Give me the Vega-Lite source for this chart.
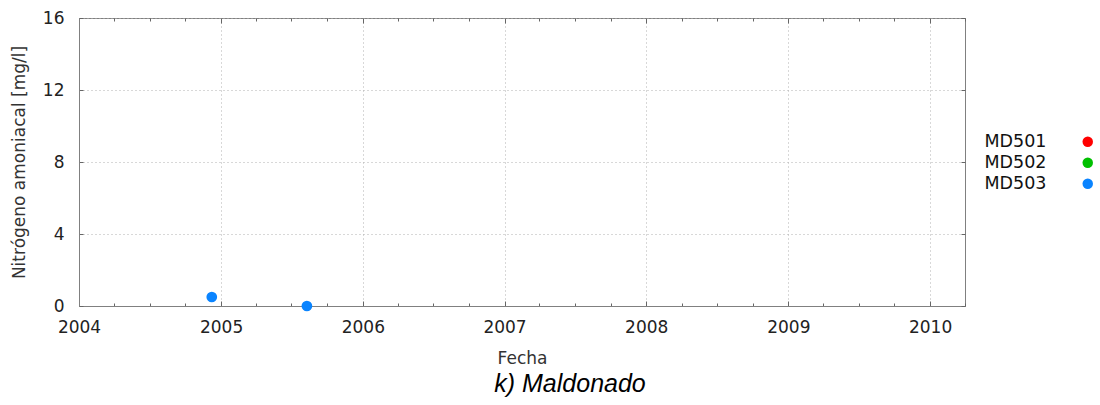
{
  "$schema": "https://vega.github.io/schema/vega-lite/v6.json",
  "autosize": "none",
  "width": 886,
  "height": 288,
  "padding": {"left": 79, "top": 18, "right": 135, "bottom": 99},
  "background": "white",
  "config": {
    "font": "DejaVu Sans",
    "view": {"stroke": "#808080", "strokeWidth": 1}
  },
  "title": {
    "text": "k) Maldonado",
    "orient": "bottom",
    "font": "Liberation Sans",
    "fontStyle": "italic",
    "fontWeight": "normal",
    "fontSize": 25,
    "color": "#000000",
    "offset": 6,
    "dx": 48
  },
  "data": {
    "values": [
      {"fecha": "2004-12-08", "valor": 0.5, "estacion": "MD503"},
      {"fecha": "2005-08-10", "valor": 0.0, "estacion": "MD503"}
    ]
  },
  "layer": [
    {
      "mark": {"type": "point", "filled": true, "opacity": 1, "size": 115},
      "encoding": {
        "x": {
          "field": "fecha",
          "type": "temporal",
          "title": "Fecha",
          "scale": {"domain": ["2004-01-01", "2010-04-01"], "nice": false},
          "axis": {
            "orient": "bottom",
            "tickCount": {"interval": "month", "step": 3},
            "labelExpr": "month(datum.value)==0 ? timeFormat(datum.value,'%Y') : ''",
            "labelOverlap": false,
            "labelFontSize": 17,
            "labelColor": "#222222",
            "labelPadding": 18,
            "labelFlush": false,
            "domainColor": "#808080",
            "tickColor": "#666666",
            "tickSize": {"condition": {"test": "month(datum.value)==0", "value": -5}, "value": -3},
            "grid": true,
            "gridColor": "#b0b0b0",
            "gridDash": [1, 3],
            "gridOpacity": {"condition": {"test": "month(datum.value)==0", "value": 1}, "value": 0},
            "titleFontSize": 17,
            "titleFontWeight": "normal",
            "titleColor": "#333333",
            "titlePadding": 13
          }
        },
        "y": {
          "field": "valor",
          "type": "quantitative",
          "title": "Nitrógeno amoniacal [mg/l]",
          "scale": {"domain": [0, 16], "nice": false},
          "axis": {
            "values": [0, 4, 8, 12, 16],
            "labelFontSize": 17,
            "labelColor": "#222222",
            "labelPadding": 19,
            "domainColor": "#808080",
            "tickColor": "#666666",
            "tickSize": -4,
            "grid": true,
            "gridColor": "#b0b0b0",
            "gridDash": [1, 3],
            "titleFontSize": 17,
            "titleFontWeight": "normal",
            "titleColor": "#333333",
            "titlePadding": 14
          }
        },
        "color": {
          "field": "estacion",
          "type": "nominal",
          "scale": {"domain": ["MD501", "MD502", "MD503"], "range": ["#ff0000", "#00c000", "#0a84ff"]},
          "legend": {
            "title": null,
            "orient": "none",
            "legendX": 1000,
            "legendY": 115,
            "symbolType": "circle",
            "symbolSize": 110,
            "symbolStrokeWidth": 0,
            "labelAlign": "right",
            "labelOffset": -50,
            "labelFontSize": 17.5,
            "labelColor": "#111111",
            "rowPadding": 2
          }
        }
      }
    },
    {
      "mark": {"type": "point", "opacity": 0},
      "encoding": {
        "x": {
          "field": "fecha",
          "type": "temporal",
          "axis": {
            "orient": "top",
            "title": null,
            "labels": false,
            "domain": false,
            "grid": false,
            "tickCount": {"interval": "month", "step": 3},
            "tickColor": "#666666",
            "tickSize": {"condition": {"test": "month(datum.value)==0", "value": -5}, "value": -3}
          }
        },
        "y": {
          "field": "valor",
          "type": "quantitative",
          "axis": {
            "orient": "right",
            "title": null,
            "labels": false,
            "domain": false,
            "grid": false,
            "values": [0, 4, 8, 12, 16],
            "tickColor": "#666666",
            "tickSize": -4
          }
        }
      }
    }
  ],
  "resolve": {"axis": {"x": "independent", "y": "independent"}}
}
